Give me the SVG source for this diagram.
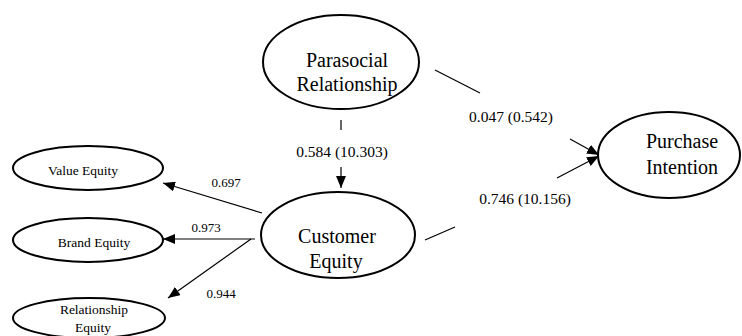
<svg xmlns="http://www.w3.org/2000/svg" width="742" height="336" viewBox="0 0 742 336" font-family="'Liberation Serif', 'Times New Roman', 'DejaVu Serif', serif">
<defs>
<style>
.node ellipse{fill:#fff;stroke:#000;stroke-width:2}
.t{font-family:'Liberation Serif','Times New Roman','DejaVu Serif',serif;fill:#000;text-anchor:middle}
.big{font-size:20px}
.small{font-size:13.5px}
.lbl{font-size:15.5px}
.ld{font-size:13px}
.edges line{stroke:#000;stroke-width:1.2;fill:none}
</style>
<marker id="ah" viewBox="0 0 12 10" refX="12" refY="5" markerWidth="12" markerHeight="10" markerUnits="userSpaceOnUse" orient="auto">
<path d="M0,0 L12,5 L0,10 Z" fill="#000"/>
</marker>
</defs>
<rect width="742" height="336" fill="#fff"/>
<g id="parasocial" class="node">
<ellipse cx="341" cy="62" rx="78" ry="47"/>
<text class="t big" x="347" y="67">Parasocial</text>
<text class="t big" x="347" y="91">Relationship</text>
</g>
<g id="customer" class="node">
<ellipse cx="338" cy="235" rx="77" ry="43"/>
<text class="t big" x="337" y="243">Customer</text>
<text class="t big" x="336" y="268">Equity</text>
</g>
<g id="purchase" class="node">
<ellipse cx="669" cy="155" rx="71" ry="43"/>
<text class="t big" x="682" y="148">Purchase</text>
<text class="t big" x="682" y="174">Intention</text>
</g>
<g id="value" class="node">
<ellipse cx="88" cy="168" rx="75" ry="22"/>
<text class="t small" x="83" y="175">Value Equity</text>
</g>
<g id="brand" class="node">
<ellipse cx="88" cy="240" rx="75" ry="22"/>
<text class="t small" x="94" y="247">Brand Equity</text>
</g>
<g id="relationship" class="node">
<ellipse cx="89" cy="318" rx="76" ry="20"/>
<text class="t small" x="94" y="314">Relationship</text>
<text class="t small" x="93" y="332">Equity</text>
</g>
<g id="connectors" class="edges">
<line x1="262" y1="213" x2="163" y2="183" marker-end="url(#ah)"/>
<line x1="255" y1="239" x2="163" y2="239" marker-end="url(#ah)"/>
<line x1="251" y1="239" x2="168" y2="298" marker-end="url(#ah)"/>
<line x1="341" y1="120" x2="341" y2="130"/>
<line x1="341" y1="167" x2="341" y2="188" marker-end="url(#ah)"/>
<line x1="435" y1="70" x2="480" y2="93"/>
<line x1="570" y1="139" x2="599" y2="155" marker-end="url(#ah)"/>
<line x1="425" y1="240" x2="455" y2="227"/>
<line x1="557" y1="178" x2="599" y2="156" marker-end="url(#ah)"/>
<text class="t ld" x="226" y="187">0.697</text>
<text class="t ld" x="206" y="232">0.973</text>
<text class="t ld" x="221" y="298">0.944</text>
<text class="t lbl" x="342" y="157">0.584 (10.303)</text>
<text class="t lbl" x="511" y="122">0.047 (0.542)</text>
<text class="t lbl" x="525" y="204">0.746 (10.156)</text>
</g>
</svg>
